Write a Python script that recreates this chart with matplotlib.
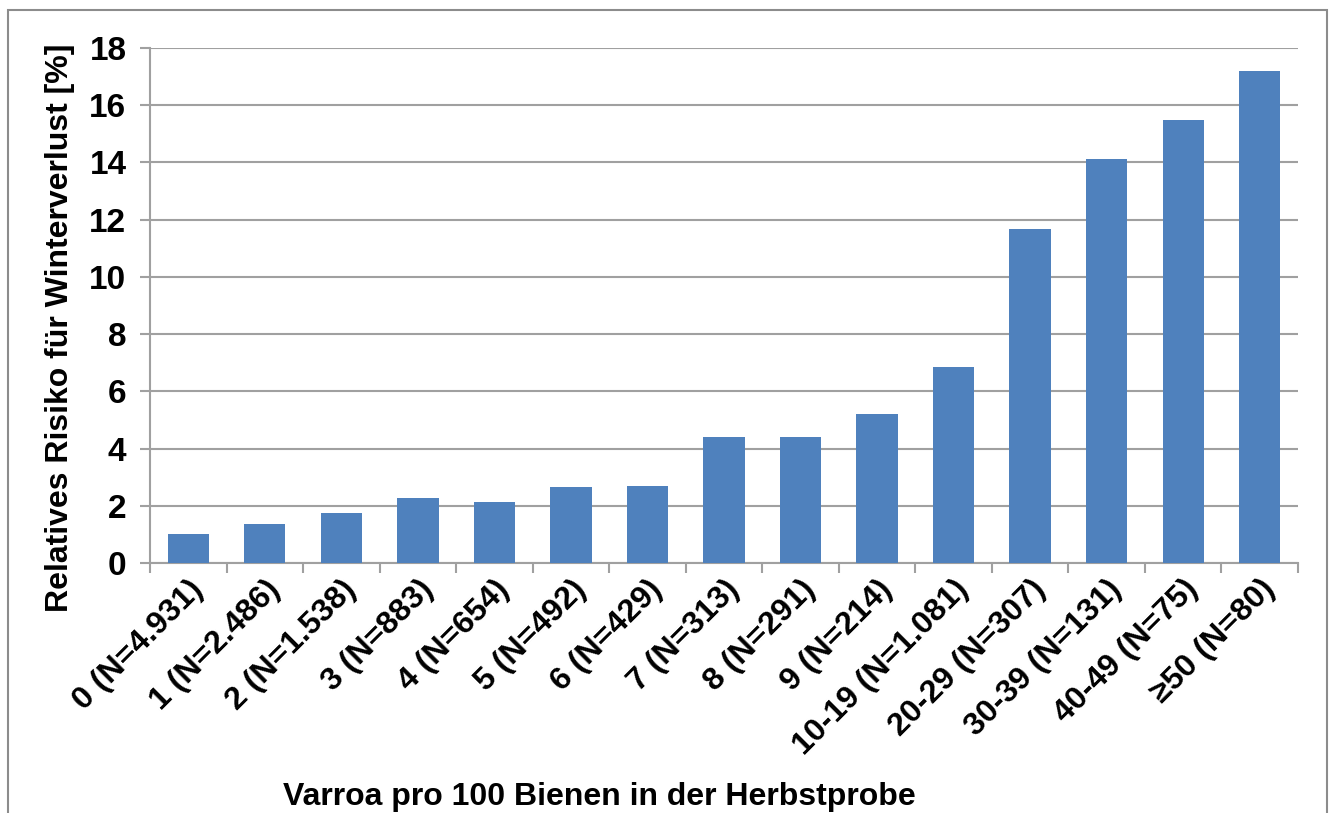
import matplotlib.pyplot as plt
import matplotlib.patches as patches
import numpy as np

# Daten
kategorien = ['0 (N=4.931)', '1 (N=2.486)', '2 (N=1.538)', '3 (N=883)', '4 (N=654)',
              '5 (N=492)', '6 (N=429)', '7 (N=313)', '8 (N=291)', '9 (N=214)',
              '10-19 (N=1.081)', '20-29 (N=307)', '30-39 (N=131)', '40-49 (N=75)', '≥50 (N=80)']
risiko = [1.0, 1.37, 1.74, 2.28, 2.14, 2.64, 2.70, 4.39, 4.39, 5.22,
          6.84, 11.67, 14.11, 15.49, 17.19]
y_ticks = [0, 2, 4, 6, 8, 10, 12, 14, 16, 18]

plt.rcParams['font.family'] = ['Liberation Sans', 'DejaVu Sans']
plt.rcParams['font.weight'] = 'bold'

grau = '#A0A0A0'

fig = plt.figure(figsize=(13.36, 8.13), dpi=100)
ax = fig.add_axes([150/1336, 1 - 563/813, 1148/1336, 515/813])

x = np.arange(len(kategorien))
ax.bar(x, risiko, width=0.54, color='#4F81BD', zorder=3)

ax.set_xlim(-0.5, len(kategorien) - 0.5)
ax.set_ylim(0, 18)
ax.set_yticks(y_ticks)
ax.set_yticklabels([str(t) for t in y_ticks], fontsize=24, fontweight='bold')
ax.yaxis.grid(True, color=grau, linewidth=1.5, zorder=0)

# Kategorien-Beschriftung schraeg, Striche an den Grenzen
ax.set_xticks(x)
ax.set_xticklabels(kategorien, rotation=45, ha='right', rotation_mode='anchor',
                   fontsize=23, fontweight='bold')
ax.tick_params(axis='x', length=0, pad=8)
ax.set_xticks(np.arange(-0.5, len(kategorien), 1), minor=True)
ax.tick_params(axis='x', which='minor', length=7, width=1.5, color=grau, direction='out')
ax.tick_params(axis='y', length=7, width=1.5, color=grau, direction='out', pad=10)

for s in ['top', 'right']:
    ax.spines[s].set_visible(False)
for s in ['left', 'bottom']:
    ax.spines[s].set_color(grau)
    ax.spines[s].set_linewidth(1.5)

fig.text(60/1336, 1 - 328/813, 'Relatives Risiko für Winterverlust [%]', rotation=90,
         ha='center', va='center', fontsize=23, fontweight='bold')
fig.text(599/1336, 1 - 797/813, 'Varroa pro 100 Bienen in der Herbstprobe',
         ha='center', va='center', fontsize=23, fontweight='bold')

# Rahmen um das Diagramm (unten abgeschnitten wie im Original)
rahmen = patches.Rectangle((8/1336, -0.05), 1319/1336, 1.05 - 10/813,
                           transform=fig.transFigure, fill=False,
                           edgecolor='#8C8C8C', linewidth=1.5)
fig.patches.append(rahmen)

fig.savefig('out.png', dpi=100)
